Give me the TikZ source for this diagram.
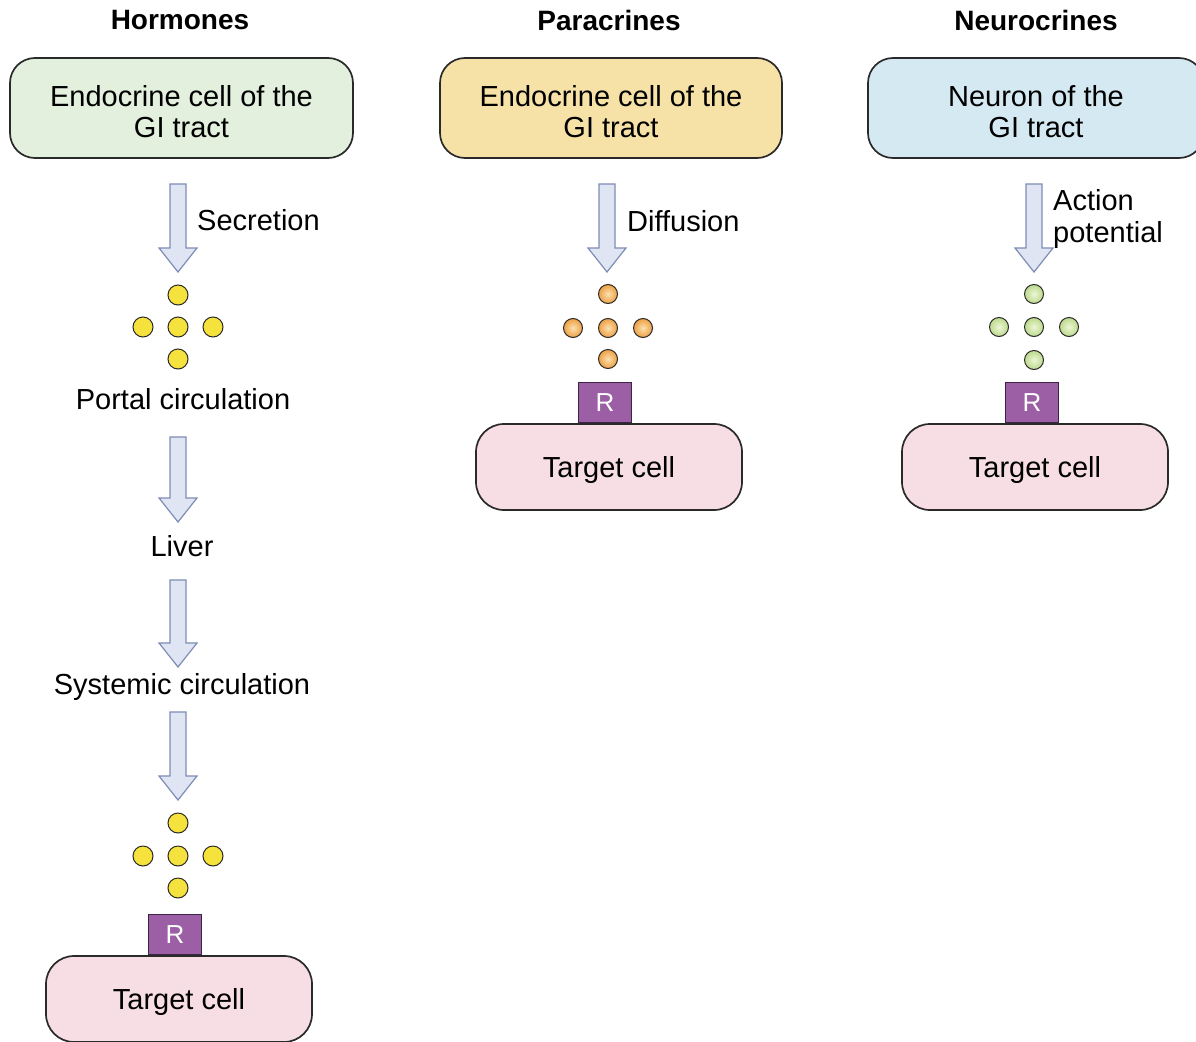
\documentclass[tikz,border=0pt]{standalone}
\usepackage{fontspec}
\setmainfont{Liberation Sans}
\usetikzlibrary{calc}
\definecolor{boxgreen}{HTML}{E3F0DD}
\definecolor{boxyellow}{HTML}{F6E2A6}
\definecolor{boxblue}{HTML}{D5E9F2}
\definecolor{targetpink}{HTML}{F6DEE4}
\definecolor{rpurple}{HTML}{9C5FA6}
\definecolor{rborder}{HTML}{3E2444}
\definecolor{arrfill}{HTML}{DFE5F2}
\definecolor{arrdraw}{HTML}{7E8DB6}
\definecolor{dotyellow}{HTML}{F6E23C}
\definecolor{dotorange}{HTML}{EDA043}
\definecolor{dotorangelight}{HTML}{FCE0B0}
\definecolor{dotgreen}{HTML}{BCDA8C}
\definecolor{dotgreenlight}{HTML}{EDF6D6}
\definecolor{edgedark}{HTML}{2A2A2A}
\newcommand\fatarrow[2]{%
  \path[fatarr] let \p1=(#1), \p2=(#2) in
    (\x1-8pt,\y1) -- (\x1-8pt,\y2+24pt) -- (\x1-19pt,\y2+24pt) -- (\x1,\y2)
    -- (\x1+19pt,\y2+24pt) -- (\x1+8pt,\y2+24pt) -- (\x1+8pt,\y1) -- cycle;}
\newcommand\toppad{\rule{0pt}{27.5pt}}
\begin{document}
\begin{tikzpicture}[x=1pt,y=-1pt,
  txt/.style={font=\fontsize{29}{31}\selectfont, text=black, inner sep=0pt},
  title/.style={font=\fontsize{28}{31}\selectfont\bfseries, text=black, inner sep=0pt},
  srcbox/.style={draw=edgedark, line width=1.7pt, rounded corners=25pt,
    minimum height=100pt, align=center, txt},
  target/.style={draw=edgedark, line width=1.7pt, rounded corners=28pt,
    fill=targetpink, minimum width=266pt, minimum height=86pt, txt,
    text height=27pt, text depth=6pt},
  rbox/.style={draw=rborder, line width=1.2pt, fill=rpurple, minimum width=53pt,
    minimum height=40pt, inner sep=0pt, text=white, font=\fontsize{26}{28}\selectfont},
  fatarr/.style={fill=arrfill, draw=arrdraw, line width=1.2pt, line join=miter},
  ydot/.style={circle, draw=edgedark, line width=1pt, fill=dotyellow, minimum size=20pt, inner sep=0pt},
  odot/.style={circle, draw=edgedark, line width=1pt, inner color=dotorangelight, outer color=dotorange, minimum size=19pt, inner sep=0pt},
  gdot/.style={circle, draw=edgedark, line width=1pt, inner color=dotgreenlight, outer color=dotgreen, minimum size=19pt, inner sep=0pt},
]
\clip (0,0) rectangle (1196,1041);
\fill[white] (0,0) rectangle (1196,1041);

% Titles
\node[title] (t1) at (180,20) {Hormones};
\node[title] (t2) at (609,20) {Paracrines};
\node[title] (t3) at (1036,20) {Neurocrines};

% Source boxes
\node[srcbox, fill=boxgreen, minimum width=343pt] (hsrc) at (181.5,108) {\toppad Endocrine cell of the\\GI tract};
\node[srcbox, fill=boxyellow, minimum width=342pt] (psrc) at (611,108) {\toppad Endocrine cell of the\\GI tract};
\node[srcbox, fill=boxblue, minimum width=336pt] (nsrc) at (1036,108) {\toppad Neuron of the\\GI tract};

% ---------- Hormones column ----------
\coordinate (h1s) at (178,184); \coordinate (h1e) at (178,272);
\fatarrow{h1s}{h1e}
\node[txt, anchor=west] (hsec) at (197,220) {Secretion};
\node[ydot] (ha1) at (178,295) {};
\node[ydot] (ha2) at (143,327) {};
\node[ydot] (ha3) at (178,327) {};
\node[ydot] (ha4) at (213,327) {};
\node[ydot] (ha5) at (178,359) {};
\node[txt] (portal) at (183,399) {Portal circulation};
\coordinate (h2s) at (178,437); \coordinate (h2e) at (178,522);
\fatarrow{h2s}{h2e}
\node[txt] (liver) at (182,546) {Liver};
\coordinate (h3s) at (178,580); \coordinate (h3e) at (178,667);
\fatarrow{h3s}{h3e}
\node[txt] (system) at (182,687) {Systemic circulation};
\coordinate (h4s) at (178,712); \coordinate (h4e) at (178,800);
\fatarrow{h4s}{h4e}
\node[ydot] (hb1) at (178,823) {};
\node[ydot] (hb2) at (143,856) {};
\node[ydot] (hb3) at (178,856) {};
\node[ydot] (hb4) at (213,856) {};
\node[ydot] (hb5) at (178,888) {};
\node[target] (htgt) at (179,999) {Target cell};
\node[rbox, anchor=south] (hr) at ($(htgt.north)+(-4,0)$) {R};

% ---------- Paracrines column ----------
\coordinate (p1s) at (607,184); \coordinate (p1e) at (607,272);
\fatarrow{p1s}{p1e}
\node[txt, anchor=west] (pdif) at (627,221) {Diffusion};
\node[odot] (pa1) at (608,294) {};
\node[odot] (pa2) at (573,328) {};
\node[odot] (pa3) at (608,328) {};
\node[odot] (pa4) at (643,328) {};
\node[odot] (pa5) at (608,359) {};
\node[target] (ptgt) at (609,467) {Target cell};
\node[rbox, anchor=south] (pr) at ($(ptgt.north)+(-4,0)$) {R};

% ---------- Neurocrines column ----------
\coordinate (n1s) at (1034,184); \coordinate (n1e) at (1034,272);
\fatarrow{n1s}{n1e}
\node[txt, anchor=west, align=left, font=\fontsize{29}{32}\selectfont] (nact) at (1053,219) {Action\\potential};
\node[gdot] (na1) at (1034,294) {};
\node[gdot] (na2) at (999,327) {};
\node[gdot] (na3) at (1034,327) {};
\node[gdot] (na4) at (1069,327) {};
\node[gdot] (na5) at (1034,360) {};
\node[target] (ntgt) at (1035,467) {Target cell};
\node[rbox, anchor=south] (nr) at ($(ntgt.north)+(-3,0)$) {R};
\end{tikzpicture}
\end{document}
